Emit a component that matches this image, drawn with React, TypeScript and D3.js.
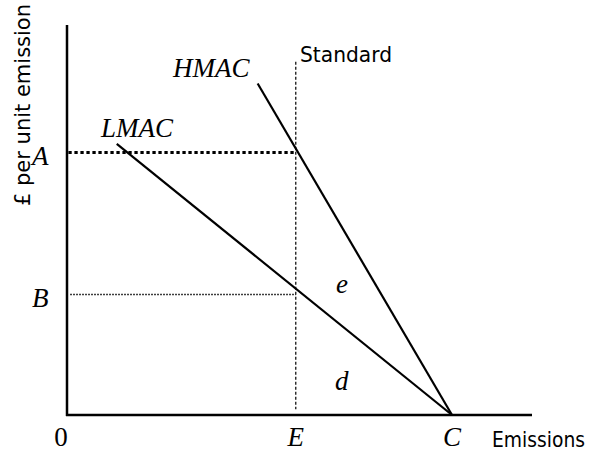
import React from "react";
import * as d3 from "d3";

const W = 590;
const H = 454;

// Emissions (x) and £ per unit emission (y), arbitrary units 0..100
const hmacPoints: [number, number][] = [
  [41, 85],
  [82.8, 0],
];
const lmacPoints: [number, number][] = [
  [10.7, 69.5],
  [82.8, 0],
];
const standardX = 49.2;
const standardTop = 90.6;
const standardBottom = 1.5;
const levelA = 67.3;
const levelB = 30.9;
const xTickLabels = [
  { label: "0", x: 0 },
  { label: "E", x: 49.2 },
  { label: "C", x: 82.8 },
];
const yTickLabels = [
  { label: "A", y: 67.3 },
  { label: "B", y: 30.9 },
];

const serif = "'Liberation Serif', 'Times New Roman', serif";
const sans = "'DejaVu Sans', Verdana, sans-serif";

export default function App() {
  const x = d3.scaleLinear().domain([0, 100]).range([67, 532]);
  const y = d3.scaleLinear().domain([0, 100]).range([415, 25]);
  const line = d3
    .line<[number, number]>()
    .x((d) => x(d[0]))
    .y((d) => y(d[1]));

  return (
    <svg
      width={W}
      height={H}
      style={{ position: "absolute", left: 0, top: 0, background: "#fff" }}
    >
      <rect x={0} y={0} width={W} height={H} fill="#fff" />
      {/* axes */}
      <line x1={x(0)} y1={y(100)} x2={x(0)} y2={y(0) + 1} stroke="#000" strokeWidth={2.5} />
      <line x1={x(0) - 1} y1={y(0)} x2={x(100)} y2={y(0)} stroke="#000" strokeWidth={2.5} />

      {/* A level: thick dotted */}
      <line
        x1={x(0.3)}
        y1={y(levelA)}
        x2={x(standardX)}
        y2={y(levelA)}
        stroke="#000"
        strokeWidth={3}
        strokeDasharray="3.3,2.7"
      />
      {/* B level: thin dotted */}
      <line
        x1={x(0.7)}
        y1={y(levelB)}
        x2={x(standardX)}
        y2={y(levelB)}
        stroke="#000"
        strokeWidth={1.5}
        strokeDasharray="1.5,1.5"
      />
      {/* Standard */}
      <line
        x1={x(standardX)}
        y1={y(standardTop)}
        x2={x(standardX)}
        y2={y(standardBottom)}
        stroke="#000"
        strokeWidth={1.2}
        strokeDasharray="3,2"
      />
      {/* MAC curves */}
      <path d={line(hmacPoints) || ""} fill="none" stroke="#000" strokeWidth={2.2} />
      <path d={line(lmacPoints) || ""} fill="none" stroke="#000" strokeWidth={2.2} />

      {/* italic serif labels */}
      <g fontFamily={serif} fontStyle="italic" fontSize={27} fill="#000">
        <text x={173} y={77}>HMAC</text>
        <text x={101} y={137}>LMAC</text>
        {yTickLabels.map((t) => (
          <text key={t.label} x={32} y={y(t.y) + 12.5}>
            {t.label}
          </text>
        ))}
        {xTickLabels
          .filter((t) => t.label !== "0")
          .map((t) => (
            <text key={t.label} x={x(t.x)} y={446} textAnchor="middle">
              {t.label}
            </text>
          ))}
        <text x={336} y={293}>e</text>
        <text x={335} y={390}>d</text>
      </g>
      <text x={x(0) - 6} y={446} textAnchor="middle" fontFamily={serif} fontSize={27} fill="#000">
        {xTickLabels[0].label}
      </text>

      {/* sans labels */}
      <g fontFamily={sans} fontSize={22} fill="#000">
        <text x={300} y={62} textLength={92} lengthAdjust="spacingAndGlyphs">
          Standard
        </text>
        <text x={492} y={447} textLength={93} lengthAdjust="spacingAndGlyphs">
          Emissions
        </text>
        <text
          transform="translate(30,105) rotate(-90)"
          textAnchor="middle"
          textLength={202}
          lengthAdjust="spacingAndGlyphs"
        >
          £ per unit emission
        </text>
      </g>
    </svg>
  );
}
